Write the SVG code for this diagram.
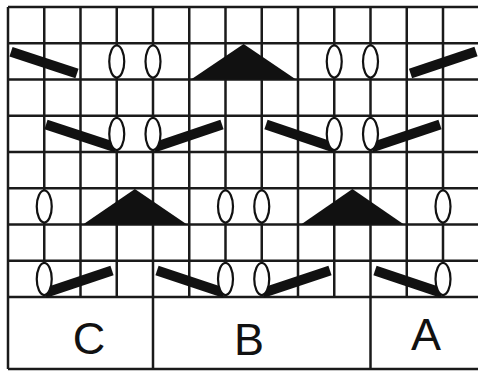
<svg xmlns="http://www.w3.org/2000/svg" width="478" height="371" viewBox="0 0 478 371">
  <style>
    .grid line { stroke: #1a1a1a; stroke-width: 2.5; }
    .bar { stroke: #111; stroke-width: 10; stroke-linecap: butt; }
    .tri { fill: #111; }
    .oval { fill: #fff; stroke: #111; stroke-width: 2.2; }
    .lbl { font-family: "Liberation Sans", Arial, sans-serif; font-size: 45px; fill: #111; text-anchor: middle; }
  </style>
  <rect x="0" y="0" width="478" height="371" fill="#fff"/>
  <g id="grid" class="grid">
    <line x1="8" y1="7" x2="480" y2="7"/>
    <line x1="8" y1="43.25" x2="480" y2="43.25"/>
    <line x1="8" y1="79.5" x2="480" y2="79.5"/>
    <line x1="8" y1="115.75" x2="480" y2="115.75"/>
    <line x1="8" y1="152" x2="480" y2="152"/>
    <line x1="8" y1="188.25" x2="480" y2="188.25"/>
    <line x1="8" y1="224.5" x2="480" y2="224.5"/>
    <line x1="8" y1="260.75" x2="480" y2="260.75"/>
    <line x1="8" y1="297" x2="480" y2="297"/>
    <line x1="8" y1="369" x2="480" y2="369"/>
    <line x1="8" y1="7" x2="8" y2="369"/>
    <line x1="44.25" y1="7" x2="44.25" y2="297"/>
    <line x1="80.5" y1="7" x2="80.5" y2="297"/>
    <line x1="116.75" y1="7" x2="116.75" y2="297"/>
    <line x1="153" y1="7" x2="153" y2="369"/>
    <line x1="189.25" y1="7" x2="189.25" y2="297"/>
    <line x1="225.5" y1="7" x2="225.5" y2="297"/>
    <line x1="261.75" y1="7" x2="261.75" y2="297"/>
    <line x1="298" y1="7" x2="298" y2="297"/>
    <line x1="334.25" y1="7" x2="334.25" y2="297"/>
    <line x1="370.5" y1="7" x2="370.5" y2="369"/>
    <line x1="406.75" y1="7" x2="406.75" y2="297"/>
    <line x1="443" y1="7" x2="443" y2="297"/>
  </g>
  <g id="row1">
    <line class="bar" x1="11" y1="51.7" x2="77" y2="73.5"/>
    <line class="bar" x1="410.5" y1="73.5" x2="476" y2="51.5"/>
    <polygon class="tri" points="191,79.5 243.6,44 296,79.5"/>
    <ellipse class="oval" cx="116.75" cy="61.5" rx="7.5" ry="16"/>
    <ellipse class="oval" cx="153" cy="61.5" rx="7.5" ry="16"/>
    <ellipse class="oval" cx="334.25" cy="61.5" rx="7.5" ry="16"/>
    <ellipse class="oval" cx="370.5" cy="61.5" rx="7.5" ry="16"/>
  </g>
  <g id="row3">
    <line class="bar" x1="46" y1="124.5" x2="116" y2="147.5"/>
    <line class="bar" x1="154" y1="147.5" x2="222" y2="124.5"/>
    <line class="bar" x1="266" y1="124.5" x2="334" y2="147.5"/>
    <line class="bar" x1="371.5" y1="147.5" x2="440" y2="124.5"/>
    <ellipse class="oval" cx="116.75" cy="134" rx="7.5" ry="16"/>
    <ellipse class="oval" cx="153" cy="134" rx="7.5" ry="16"/>
    <ellipse class="oval" cx="334.25" cy="134" rx="7.5" ry="16"/>
    <ellipse class="oval" cx="370.5" cy="134" rx="7.5" ry="16"/>
  </g>
  <g id="row5">
    <polygon class="tri" points="83,224.5 134.9,189 187,224.5"/>
    <polygon class="tri" points="301,224.5 352.4,189 404,224.5"/>
    <ellipse class="oval" cx="44.25" cy="206.5" rx="7.5" ry="16"/>
    <ellipse class="oval" cx="225.5" cy="206.5" rx="7.5" ry="16"/>
    <ellipse class="oval" cx="261.75" cy="206.5" rx="7.5" ry="16"/>
    <ellipse class="oval" cx="443" cy="206.5" rx="7.5" ry="16"/>
  </g>
  <g id="row7">
    <line class="bar" x1="45" y1="293" x2="112" y2="270.5"/>
    <line class="bar" x1="157" y1="270.5" x2="224.5" y2="293"/>
    <line class="bar" x1="262.5" y1="293" x2="330" y2="270.5"/>
    <line class="bar" x1="375" y1="270.5" x2="442" y2="293"/>
    <ellipse class="oval" cx="44.25" cy="279" rx="7.5" ry="16"/>
    <ellipse class="oval" cx="225.5" cy="279" rx="7.5" ry="16"/>
    <ellipse class="oval" cx="261.75" cy="279" rx="7.5" ry="16"/>
    <ellipse class="oval" cx="443" cy="279" rx="7.5" ry="16"/>
  </g>
  <g id="labels">
    <text class="lbl" x="89" y="354">C</text>
    <text class="lbl" x="249" y="355">B</text>
    <text class="lbl" x="426" y="350">A</text>
  </g>
</svg>
